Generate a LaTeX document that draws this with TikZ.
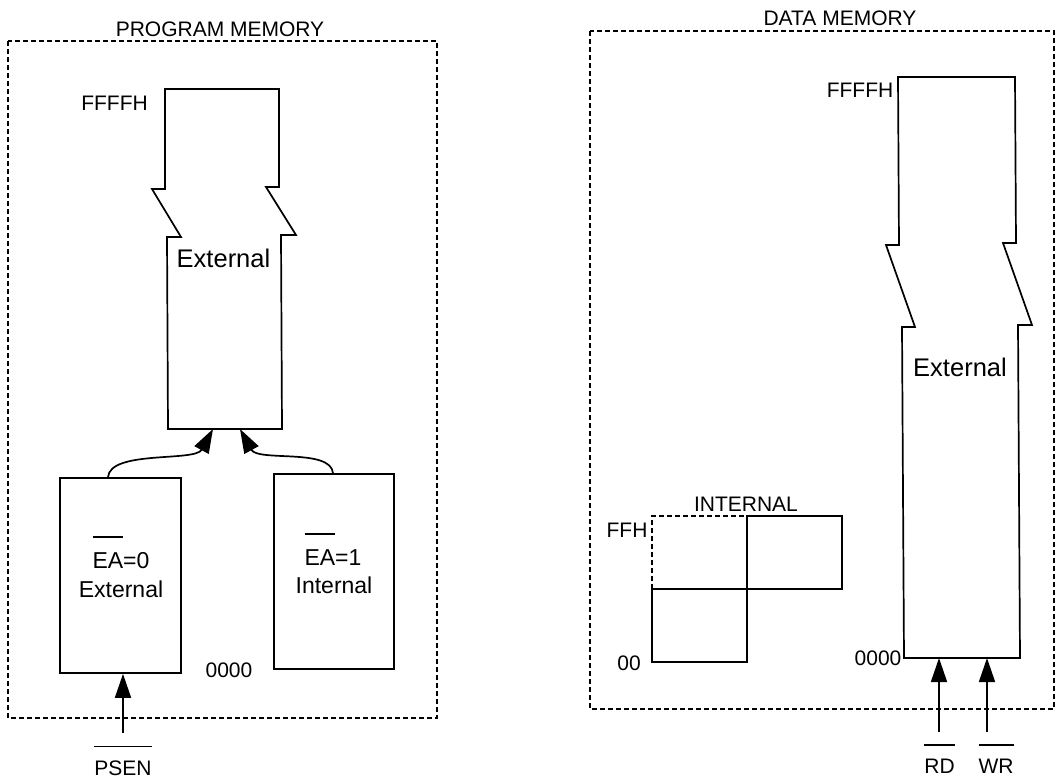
\documentclass[tikz,border=0pt]{standalone}
\usepackage{fontspec}
\setmainfont{Liberation Sans}
\usetikzlibrary{arrows.meta}
% active-low signal name: bar drawn well above the capitals
\newcommand\ovl[1]{\leavevmode\vbox{\hrule height 1.6pt\kern 0.62em\hbox{#1}}}
\tikzset{
  solidline/.style={line width=1.7pt, draw=black},
  frame/.style={line width=1.3pt, draw=black, dash pattern=on 5pt off 3pt},
  membox/.style={rectangle, solidline, inner sep=0pt},
  boxtext/.style={inner sep=0pt, anchor=base, font=\fontsize{23}{29}\selectfont},
  lbl/.style={inner sep=0pt, anchor=base, font=\fontsize{21}{25}\selectfont},
  biglbl/.style={inner sep=0pt, anchor=base, font=\fontsize{25.5}{30}\selectfont},
  sig/.style={solidline, -{Triangle[length=24pt,width=16pt]}},
}
\begin{document}
\begin{tikzpicture}[x=1pt, y=-1pt]
  \useasboundingbox (0,0) rectangle (1058,779);

  % ---------------- program memory ----------------
  \draw[frame] (8,41) rectangle (437,718);
  \node[lbl] (pmtitle) at (220,36) {PROGRAM MEMORY};

  % external program memory with break marks
  \draw[solidline] (165,89) -- (279,89) -- (279,187) -- (266,187) -- (296,235)
     -- (281,235) -- (282,429) -- (168,429) -- (167,237) -- (181,237)
     -- (152,189) -- (165,189) -- cycle;
  \coordinate (pextL) at (213,429);
  \coordinate (pextR) at (240,429);
  \node[biglbl] (pext) at (223.5,267) {External};
  \node[lbl] (pffff) at (114.5,110) {FFFFH};

  \node[membox, minimum width=121pt, minimum height=195pt] (ea0) at (120.5,575.5) {};
  \node[boxtext] (ea0a) at (121,568) {\ovl{EA}=0};
  \node[boxtext] (ea0b) at (121,597) {External};
  \node[membox, minimum width=120pt, minimum height=195pt] (ea1) at (334,571.5) {};
  \node[boxtext] (ea1a) at (333,565) {\ovl{EA}=1};
  \node[boxtext] (ea1b) at (334,593) {Internal};
  \node[lbl] (p0000) at (229,677) {0000};

  \draw[sig] (ea0.north -| 108,0) .. controls (110,450) and (195,462) .. (pextL);
  \draw[sig] (ea1.north -| 333,0) .. controls (331,448) and (258,462) .. (pextR);

  \coordinate (psenin) at (123,733);
  \draw[sig] (psenin) -- (psenin |- ea0.south);
  \node[lbl] (psen) at (123,775) {\ovl{PSEN}};

  % ---------------- data memory ----------------
  \draw[frame] (590,31) rectangle (1054,709);
  \node[lbl] (dmtitle) at (840,25) {DATA MEMORY};

  % external data memory with break marks
  \draw[solidline] (898,77) -- (1015,77) -- (1016,243) -- (1003,243) -- (1032,325)
     -- (1018,325) -- (1020,658) -- (904,658) -- (902,327) -- (915,327)
     -- (886,245) -- (899,245) -- cycle;
  \coordinate (dextRD) at (939,658);
  \coordinate (dextWR) at (987,658);
  \node[biglbl] (dext) at (960,376) {External};
  \node[lbl] (dffff) at (860,97) {FFFFH};
  \node[lbl] (d0000) at (878,665) {0000};

  % internal data memory: lower 128 bytes and upper 128 bytes
  \draw[frame] (652,589) -- (652,516) -- (747,516);
  \draw[solidline] (747,516) rectangle (842,589);
  \draw[solidline] (652,589) rectangle (747,662);
  \node[lbl] (intlbl) at (746,511) {INTERNAL};
  \node[lbl] (ffh) at (627,537) {FFH};
  \node[lbl] (d00) at (629,670) {00};

  \coordinate (rdin) at (939,732);
  \coordinate (wrin) at (987,732);
  \draw[sig] (rdin) -- (dextRD);
  \draw[sig] (wrin) -- (dextWR);
  \node[lbl] (rd) at (939.5,773) {\ovl{RD}};
  \node[lbl] (wr) at (996,773) {\ovl{WR}};
\end{tikzpicture}
\end{document}
